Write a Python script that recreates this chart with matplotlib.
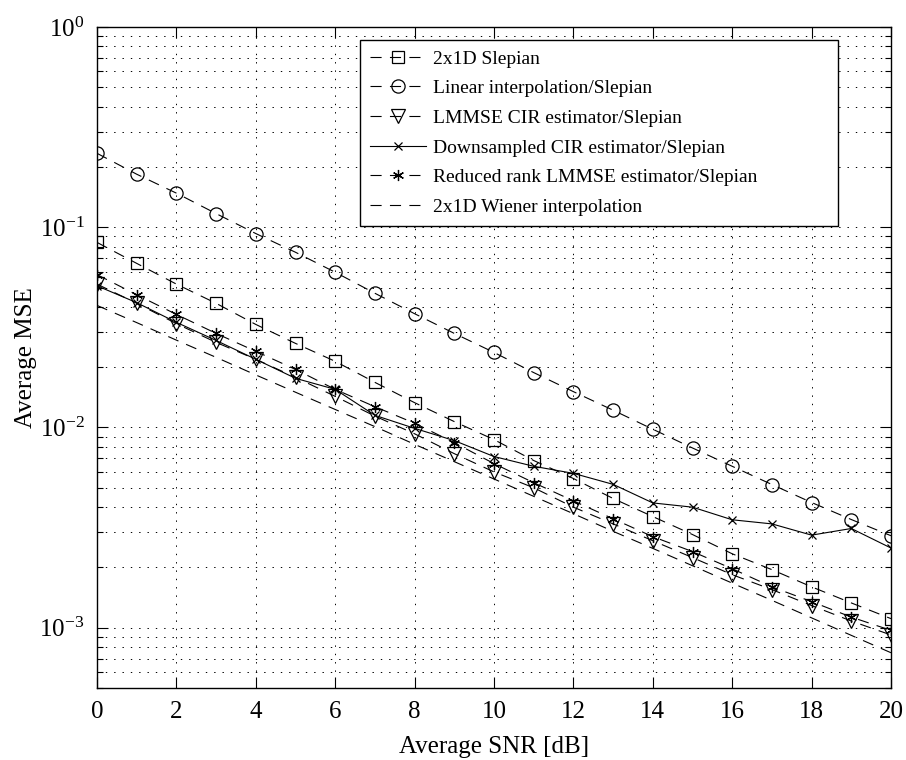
import matplotlib
matplotlib.use('Agg')
import matplotlib.pyplot as plt
from matplotlib.ticker import LogLocator, NullFormatter, LogFormatterSciNotation

plt.rcParams['font.family'] = ['Liberation Serif', 'DejaVu Serif']
plt.rcParams['mathtext.fontset'] = 'stix'
plt.rcParams['lines.scale_dashes'] = False

snr = list(range(21))

slepian_2x1d = [0.084, 0.066, 0.052, 0.0417, 0.0327, 0.0263, 0.0214, 0.0168, 0.0133, 0.0107,
                0.0087, 0.00684, 0.00556, 0.00442, 0.00359, 0.00292, 0.00234, 0.00195, 0.0016,
                0.00133, 0.00111]
linear_interp = [0.234, 0.184, 0.148, 0.117, 0.093, 0.075, 0.0596, 0.0468, 0.037, 0.0295,
                 0.0237, 0.0188, 0.0151, 0.0122, 0.0098, 0.0079, 0.0064, 0.00519, 0.00422,
                 0.00347, 0.00288]
lmmse_cir = [0.052, 0.0417, 0.033, 0.0266, 0.0219, 0.0178, 0.0143, 0.0114, 0.0093, 0.0074,
             0.006, 0.005, 0.004, 0.0033, 0.00272, 0.00224, 0.00184, 0.00155, 0.00129,
             0.00108, 0.00092]
downsampled_cir = [0.051, 0.042, 0.0335, 0.0272, 0.0219, 0.0176, 0.0155, 0.0115, 0.0099, 0.0086,
                   0.00716, 0.0064, 0.0059, 0.0052, 0.0042, 0.004, 0.00346, 0.0033, 0.0029,
                   0.00313, 0.0025]
reduced_rank = [0.058, 0.046, 0.0367, 0.0295, 0.024, 0.0195, 0.0155, 0.0127, 0.0105, 0.0084,
                0.0066, 0.0053, 0.0043, 0.0035, 0.00285, 0.0024, 0.00197, 0.0016, 0.00135,
                0.00113, 0.00097]
wiener_2x1d = [0.0407, 0.0334, 0.0273, 0.0224, 0.0183, 0.015, 0.0123, 0.0101, 0.00824, 0.00675,
               0.00553, 0.00453, 0.00371, 0.00303, 0.00249, 0.00204, 0.00167, 0.00137, 0.00112,
               0.000916, 0.00075]

labels = ['2x1D Slepian', 'Linear interpolation/Slepian', 'LMMSE CIR estimator/Slepian',
          'Downsampled CIR estimator/Slepian', 'Reduced rank LMMSE estimator/Slepian',
          '2x1D Wiener interpolation']

fig = plt.figure(figsize=(9.06, 7.6), dpi=100)
ax = fig.add_axes([97 / 906, 1 - 688 / 760, (891 - 97) / 906, (688 - 27) / 760])

dash = (0, (8, 6))
lw = 0.8
ax.plot(snr, slepian_2x1d, color='k', lw=lw, ls=dash, marker='s', ms=8, mfc='none', mew=0.9,
        label=labels[0])
ax.plot(snr, linear_interp, color='k', lw=lw, ls=dash, marker='o', ms=9.5, mfc='none', mew=0.9,
        label=labels[1])
ax.plot(snr, lmmse_cir, color='k', lw=lw, ls=dash, marker='v', ms=9.5, mfc='none', mew=0.9,
        label=labels[2])
ax.plot(snr, downsampled_cir, color='k', lw=lw, ls='-', marker='x', ms=5.5, mew=0.9,
        label=labels[3])
ax.plot(snr, reduced_rank, color='k', lw=lw, ls=dash, marker=(6, 2, 0), ms=8, mew=0.9,
        label=labels[4])
ax.plot(snr, wiener_2x1d, color='k', lw=lw, ls=dash, label=labels[5])

ax.set_yscale('log')
ax.set_xlim(0, 20)
ax.set_ylim(5e-4, 1)
ax.set_xticks(range(0, 21, 2))
ax.yaxis.set_major_locator(LogLocator(base=10, numticks=10))
ax.yaxis.set_minor_locator(LogLocator(base=10, subs=range(2, 10), numticks=20))
ax.yaxis.set_major_formatter(LogFormatterSciNotation())
ax.yaxis.set_minor_formatter(NullFormatter())

# dotted grid, minor lines only on the log axis
grid_style = dict(color='k', ls=(0, (1, 5)), lw=0.7)
ax.grid(True, which='major', axis='both', **grid_style)
ax.grid(True, which='minor', axis='y', **grid_style)

ax.tick_params(which='both', direction='in', top=True, right=True, labelsize=18, width=0.8)
ax.tick_params(which='major', length=8, pad=9)
ax.tick_params(which='minor', length=4)
for s in ax.spines.values():
    s.set_linewidth(1.0)

ax.set_xlabel('Average SNR [dB]', fontsize=18, labelpad=10)
ax.set_ylabel('Average MSE', fontsize=18, labelpad=2)

leg = ax.legend(loc='upper left', bbox_to_anchor=(0.331, 0.697, 0.602, 0.283), mode='expand',
                borderaxespad=0, fontsize=14, handlelength=2.9, handletextpad=0.35,
                labelspacing=0.62, borderpad=0.5, fancybox=False, framealpha=1,
                edgecolor='k')
leg.get_frame().set_linewidth(1.0)

fig.savefig('out.png', dpi=100, facecolor='white')
